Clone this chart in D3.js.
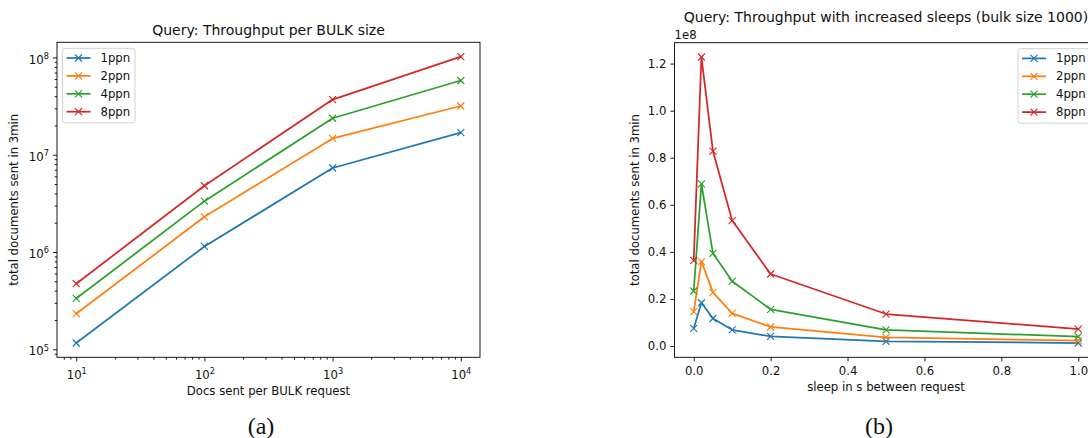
<!DOCTYPE html>
<html>
<head>
<meta charset="utf-8">
<script src="https://cdn.jsdelivr.net/npm/d3@7"></script>
<style>
  body { margin: 0; background: #fff; }
  svg { display: block; font-family: "DejaVu Sans", sans-serif; }
</style>
</head>
<body>
<div id="chart"></div>
<script>
// ---- data ----
const seriesNames = ["1ppn", "2ppn", "4ppn", "8ppn"];
const seriesColors = ["#1f77b4", "#ff7f0e", "#2ca02c", "#d62728"];

// (a) throughput per bulk size (log-log)
const bulkSizes = [10, 100, 1000, 10000];
const bulk1ppn = [1.16e5, 1.14e6, 7.3e6, 1.69e7];
const bulk2ppn = [2.32e5, 2.3e6, 1.47e7, 3.17e7];
const bulk4ppn = [3.33e5, 3.33e6, 2.37e7, 5.8e7];
const bulk8ppn = [4.72e5, 4.8e6, 3.69e7, 1.02e8];
const bulkXTicks = [10, 100, 1000, 10000];
const bulkYTicks = [1e5, 1e6, 1e7, 1e8];

// (b) throughput with sleeps (bulk size 1000)
const sleeps = [0, 0.02, 0.05, 0.1, 0.2, 0.5, 1.0];
const sleep1ppn = [0.075e8, 0.184e8, 0.117e8, 0.069e8, 0.041e8, 0.020e8, 0.013e8];
const sleep2ppn = [0.146e8, 0.359e8, 0.228e8, 0.139e8, 0.081e8, 0.037e8, 0.023e8];
const sleep4ppn = [0.234e8, 0.689e8, 0.394e8, 0.275e8, 0.156e8, 0.069e8, 0.040e8];
const sleep8ppn = [0.364e8, 1.228e8, 0.828e8, 0.533e8, 0.306e8, 0.136e8, 0.072e8];
const sleepXTicks = [0, 0.2, 0.4, 0.6, 0.8, 1.0];
const sleepYTicks = [0, 0.2e8, 0.4e8, 0.6e8, 0.8e8, 1.0e8, 1.2e8];

const width = 1088, height = 438;
const fs = 11.7;           // 10pt
const lw = 1.75;           // line width
const ms = 3.5;            // half marker size

const svg = d3.select("#chart").append("svg")
  .attr("width", width)
  .attr("height", height);

function withMargin(lo, hi, frac) {
  const d = (hi - lo) * frac;
  return [lo - d, hi + d];
}

function logLabel(sel) {
  // turn "10^k" into 10 + raised exponent
  sel.each(function (d) {
    const t = d3.select(this);
    const k = Math.round(Math.log10(d));
    t.text(null);
    t.append("tspan").text("10");
    t.append("tspan").attr("font-size", fs * 0.7).attr("dy", -4.8).text(k);
  });
}

function drawPanel(opts) {
  const { x0, x1, y0, y1, xScale, yScale } = opts;
  const g = svg.append("g");

  // x axis
  const xAxis = d3.axisBottom(xScale).tickValues(opts.xTicks).tickSize(4.1).tickPadding(5.3).tickSizeOuter(0);
  if (opts.xFormat) xAxis.tickFormat(opts.xFormat);
  const gx = g.append("g").attr("transform", `translate(0,${y1})`).call(xAxis);
  gx.select(".domain").remove();
  gx.selectAll("text").attr("font-size", fs).attr("font-family", "DejaVu Sans").attr("fill", "#111");
  if (opts.xLog) gx.selectAll("text").attr("y", 13.5).call(logLabel);

  const yAxis = d3.axisLeft(yScale).tickValues(opts.yTicks).tickSize(4.1).tickPadding(4).tickSizeOuter(0);
  if (opts.yFormat) yAxis.tickFormat(opts.yFormat);
  const gy = g.append("g").attr("transform", `translate(${x0},0)`).call(yAxis);
  gy.select(".domain").remove();
  gy.selectAll("text").attr("font-size", fs).attr("font-family", "DejaVu Sans").attr("fill", "#111");
  if (opts.yLog) gy.selectAll("text").attr("y", 1.8).call(logLabel);

  // minor ticks for log axes
  if (opts.xMinor) {
    const mx = g.append("g").attr("transform", `translate(0,${y1})`)
      .call(d3.axisBottom(xScale).tickValues(opts.xMinor).tickSize(2.3).tickFormat(""));
    mx.select(".domain").remove();
  }
  if (opts.yMinor) {
    const my = g.append("g").attr("transform", `translate(${x0},0)`)
      .call(d3.axisLeft(yScale).tickValues(opts.yMinor).tickSize(2.3).tickFormat(""));
    my.select(".domain").remove();
  }
  g.selectAll(".tick line").attr("stroke", "#000").attr("stroke-width", 0.9);

  // series
  const line = d3.line().x(d => xScale(d[0])).y(d => yScale(d[1]));
  const plot = g.append("g");
  opts.series.forEach((vals, i) => {
    const pts = opts.xs.map((x, j) => [x, vals[j]]);
    plot.append("path")
      .attr("d", line(pts))
      .attr("fill", "none")
      .attr("stroke", seriesColors[i])
      .attr("stroke-width", lw)
      .attr("stroke-linejoin", "round")
      .attr("stroke-linecap", "square");
    plot.selectAll(null)
      .data(pts)
      .enter().append("path")
      .attr("transform", d => `translate(${xScale(d[0])},${yScale(d[1])})`)
      .attr("d", `M${-ms},${-ms}L${ms},${ms}M${-ms},${ms}L${ms},${-ms}`)
      .attr("stroke", seriesColors[i])
      .attr("stroke-width", 1.17)
      .attr("fill", "none");
  });

  // frame
  g.append("rect")
    .attr("x", x0).attr("y", y0)
    .attr("width", x1 - x0).attr("height", y1 - y0)
    .attr("fill", "none").attr("stroke", "#000").attr("stroke-width", 0.9);

  // title and labels
  const cx = (x0 + x1) / 2;
  g.append("text").attr("x", cx).attr("y", opts.titleY)
    .attr("text-anchor", "middle").attr("font-size", 14).attr("fill", "#111")
    .text(opts.title);
  g.append("text").attr("x", cx).attr("y", opts.xLabelY)
    .attr("text-anchor", "middle").attr("font-size", fs).attr("fill", "#111")
    .text(opts.xLabel);
  g.append("text")
    .attr("transform", `translate(${opts.yLabelX},${(y0 + y1) / 2}) rotate(-90)`)
    .attr("text-anchor", "middle").attr("dy", "0.35em").attr("font-size", fs).attr("fill", "#111")
    .text(opts.yLabel);

  // legend
  const lg = g.append("g").attr("transform", `translate(${opts.legendX},${y0 + 6})`);
  lg.append("rect")
    .attr("width", 72.5).attr("height", 74.5).attr("rx", 2.5)
    .attr("fill", "#fff").attr("fill-opacity", 0.8)
    .attr("stroke", "#ccc").attr("stroke-width", 0.9);
  seriesNames.forEach((name, i) => {
    const yy = 9.7 + i * 17.9;
    lg.append("line").attr("x1", 4).attr("x2", 28).attr("y1", yy).attr("y2", yy)
      .attr("stroke", seriesColors[i]).attr("stroke-width", lw);
    lg.append("path")
      .attr("transform", `translate(16,${yy})`)
      .attr("d", `M${-ms},${-ms}L${ms},${ms}M${-ms},${ms}L${ms},${-ms}`)
      .attr("stroke", seriesColors[i]).attr("stroke-width", 1.17).attr("fill", "none");
    lg.append("text").attr("x", 38).attr("y", yy).attr("dy", "0.35em")
      .attr("font-size", fs).attr("fill", "#111").text(name);
  });
  return g;
}

// ---- panel (a) ----
{
  const x0 = 57, x1 = 480, y0 = 42.3, y1 = 357.3;
  const allY = [...bulk1ppn, ...bulk2ppn, ...bulk4ppn, ...bulk8ppn];
  const lx = withMargin(Math.log10(d3.min(bulkSizes)), Math.log10(d3.max(bulkSizes)), 0.05);
  const ly = withMargin(Math.log10(d3.min(allY)), Math.log10(d3.max(allY)), 0.05);
  const xScale = d3.scaleLog().domain(lx.map(v => 10 ** v)).range([x0, x1]);
  const yScale = d3.scaleLog().domain(ly.map(v => 10 ** v)).range([y1, y0]);
  const minorOf = dom => {
    const out = [];
    for (let e = 0; e <= 9; e++) for (let m = 2; m <= 9; m++) {
      const v = m * 10 ** e;
      if (v >= dom[0] && v <= dom[1]) out.push(v);
    }
    return out;
  };
  drawPanel({
    x0, x1, y0, y1, xScale, yScale,
    xTicks: bulkXTicks, yTicks: bulkYTicks, xLog: true, yLog: true,
    xMinor: minorOf(xScale.domain()), yMinor: minorOf(yScale.domain()),
    xs: bulkSizes, series: [bulk1ppn, bulk2ppn, bulk4ppn, bulk8ppn],
    title: "Query: Throughput per BULK size", titleY: 35,
    xLabel: "Docs sent per BULK request", xLabelY: 395,
    yLabel: "total documents sent in 3min", yLabelX: 13.5,
    legendX: 62.5
  });
}

// ---- panel (b) ----
{
  const x0 = 674.5, x1 = 1097.5, y0 = 42.7, y1 = 357.3;
  const allY = [...sleep1ppn, ...sleep2ppn, ...sleep4ppn, ...sleep8ppn];
  const xScale = d3.scaleLinear().domain(withMargin(0, 1, 0.05)).range([x0, x1]);
  const yScale = d3.scaleLinear().domain(withMargin(d3.min(allY), d3.max(allY), 0.05)).range([y1, y0]);
  drawPanel({
    x0, x1, y0, y1, xScale, yScale,
    xTicks: sleepXTicks, yTicks: sleepYTicks,
    xFormat: d3.format(".1f"), yFormat: d => (d / 1e8).toFixed(1),
    xs: sleeps, series: [sleep1ppn, sleep2ppn, sleep4ppn, sleep8ppn],
    title: "Query: Throughput with increased sleeps (bulk size 1000)", titleY: 22,
    xLabel: "sleep in s between request", xLabelY: 391,
    yLabel: "total documents sent in 3min", yLabelX: 635,
    legendX: 1018
  });
  svg.append("text").attr("x", x0).attr("y", 38.5)
    .attr("font-size", fs).attr("fill", "#111").text("1e8");
}

// subfigure captions
svg.append("text").attr("x", 261).attr("y", 434).attr("text-anchor", "middle")
  .attr("font-family", "Liberation Serif, DejaVu Serif, serif").attr("font-size", 24).attr("fill", "#111")
  .text("(a)");
svg.append("text").attr("x", 879).attr("y", 434).attr("text-anchor", "middle")
  .attr("font-family", "Liberation Serif, DejaVu Serif, serif").attr("font-size", 24).attr("fill", "#111")
  .text("(b)");
</script>
</body>
</html>
